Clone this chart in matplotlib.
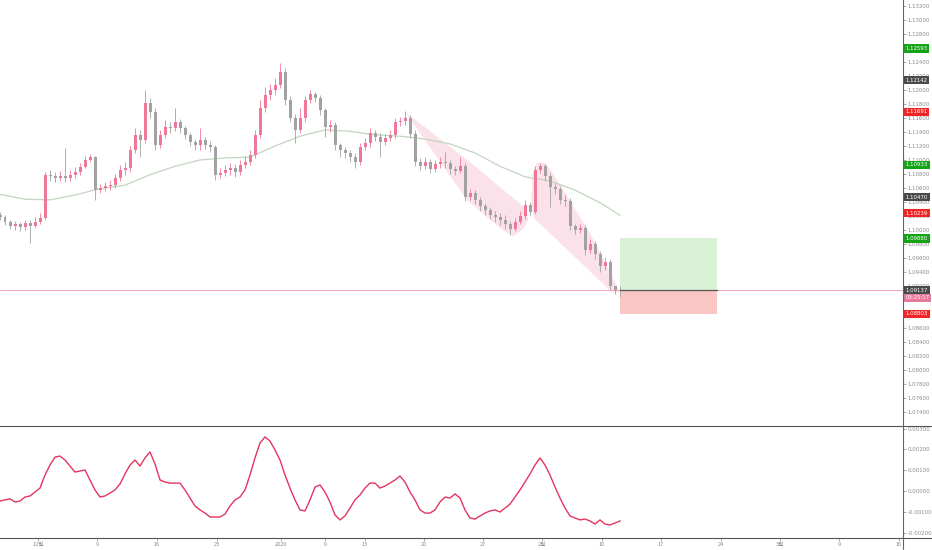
import numpy as np
import matplotlib.pyplot as plt
from matplotlib.lines import Line2D

plt.rcParams["font.family"] = ["DejaVu Sans", "Noto Sans CJK KR"]

# EURUSD-like candles, one bar per slot
first_open = 1.1021
closes = [1.1019, 1.1011, 1.1006, 1.1009, 1.1004, 1.1010, 1.1006, 1.1011, 1.1017, 1.1079,
          1.1077, 1.1074, 1.1077, 1.1074, 1.1079, 1.1083, 1.1090, 1.1100, 1.1104, 1.1057,
          1.1060, 1.1063, 1.1064, 1.1074, 1.1086, 1.1089, 1.1114, 1.1136, 1.1129, 1.1181,
          1.1169, 1.1121, 1.1136, 1.1147, 1.1146, 1.1154, 1.1146, 1.1136, 1.1126, 1.1121,
          1.1129, 1.1121, 1.1119, 1.1079, 1.1081, 1.1086, 1.1089, 1.1083, 1.1093, 1.1097,
          1.1107, 1.1136, 1.1174, 1.1193, 1.1200, 1.1207, 1.1226, 1.1186, 1.1160, 1.1143,
          1.1160, 1.1186, 1.1194, 1.1189, 1.1171, 1.1147, 1.1150, 1.1121, 1.1114, 1.1110,
          1.1104, 1.1097, 1.1119, 1.1124, 1.1139, 1.1133, 1.1126, 1.1131, 1.1136, 1.1154,
          1.1156, 1.1160, 1.1137, 1.1097, 1.1091, 1.1097, 1.1087, 1.1094, 1.1097, 1.1096,
          1.1087, 1.1084, 1.1091, 1.1047, 1.1053, 1.1043, 1.1034, 1.1029, 1.1021, 1.1019,
          1.1014, 1.1009, 1.1001, 1.1011, 1.1020, 1.1036, 1.1026, 1.1086, 1.1091, 1.1077,
          1.1061, 1.1059, 1.1043, 1.1041, 1.1006, 1.1000, 1.1003, 1.0971, 1.0980, 1.0966,
          1.0949, 1.0954, 1.0920, 1.0914, 1.09137]
highs = [1.1026, 1.1021, 1.1014, 1.1013, 1.1011, 1.1014, 1.1014, 1.1019, 1.1024, 1.1083,
         1.1086, 1.1083, 1.1084, 1.1117, 1.1086, 1.1090, 1.1096, 1.1106, 1.1109, 1.1106,
         1.1066, 1.1069, 1.1071, 1.1080, 1.1093, 1.1097, 1.1120, 1.1146, 1.1143, 1.1200,
         1.1189, 1.1174, 1.1143, 1.1157, 1.1154, 1.1174, 1.1159, 1.1149, 1.1139, 1.1130,
         1.1146, 1.1133, 1.1127, 1.1121, 1.1089, 1.1093, 1.1096, 1.1094, 1.1100, 1.1106,
         1.1114, 1.1143, 1.1186, 1.1204, 1.1209, 1.1217, 1.1239, 1.1231, 1.1191, 1.1166,
         1.1174, 1.1191, 1.1200, 1.1197, 1.1193, 1.1174, 1.1157, 1.1154, 1.1124, 1.1119,
         1.1114, 1.1110, 1.1124, 1.1131, 1.1146, 1.1143, 1.1139, 1.1137, 1.1143, 1.1160,
         1.1161, 1.1170, 1.1164, 1.1143, 1.1103, 1.1104, 1.1101, 1.1100, 1.1104, 1.1111,
         1.1100, 1.1091, 1.1104, 1.1096, 1.1059, 1.1057, 1.1047, 1.1039, 1.1033, 1.1027,
         1.1024, 1.1021, 1.1013, 1.1017, 1.1027, 1.1043, 1.1040, 1.1091, 1.1096, 1.1094,
         1.1081, 1.1067, 1.1063, 1.1050, 1.1046, 1.1009, 1.1009, 1.1007, 1.0987, 1.0984,
         1.0970, 1.0961, 1.0959, 1.0920, 1.0920]
lows = [1.1014, 1.1007, 1.1001, 1.1000, 1.0999, 1.1000, 1.0981, 1.1003, 1.1009, 1.1014,
        1.1070, 1.1069, 1.1070, 1.1069, 1.1070, 1.1074, 1.1079, 1.1089, 1.1097, 1.1043,
        1.1053, 1.1056, 1.1057, 1.1060, 1.1070, 1.1079, 1.1083, 1.1110, 1.1104, 1.1124,
        1.1160, 1.1114, 1.1117, 1.1131, 1.1139, 1.1141, 1.1139, 1.1130, 1.1120, 1.1114,
        1.1114, 1.1116, 1.1111, 1.1071, 1.1074, 1.1077, 1.1079, 1.1076, 1.1079, 1.1089,
        1.1093, 1.1103, 1.1131, 1.1169, 1.1186, 1.1193, 1.1203, 1.1179, 1.1154, 1.1124,
        1.1139, 1.1154, 1.1181, 1.1183, 1.1164, 1.1133, 1.1140, 1.1114, 1.1104, 1.1103,
        1.1097, 1.1089, 1.1093, 1.1114, 1.1119, 1.1127, 1.1104, 1.1121, 1.1127, 1.1131,
        1.1149, 1.1150, 1.1131, 1.1091, 1.1086, 1.1087, 1.1081, 1.1083, 1.1089, 1.1089,
        1.1080, 1.1079, 1.1081, 1.1041, 1.1043, 1.1037, 1.1027, 1.1021, 1.1016, 1.1011,
        1.1007, 1.1001, 1.0993, 1.0999, 1.1009, 1.1016, 1.1020, 1.1023, 1.1081, 1.1070,
        1.1033, 1.1051, 1.1037, 1.1034, 1.1000, 1.0994, 1.0996, 1.0964, 1.0967, 1.0959,
        1.0940, 1.0943, 1.0914, 1.0909, 1.0904]

# moving average
ma_bars = [0, 5, 10, 15, 20, 25, 30, 35, 40, 45, 50, 55, 60, 65, 70, 75, 80, 85, 90,
           95, 100, 105, 110, 115, 120, 124]
ma_vals = [1.1051, 1.1044, 1.1043, 1.1050, 1.1059, 1.1064, 1.1079, 1.1091, 1.1100,
           1.1103, 1.1104, 1.1120, 1.1134, 1.1143, 1.1141, 1.1136, 1.1134, 1.1130,
           1.1123, 1.1110, 1.1091, 1.1076, 1.1070, 1.1057, 1.1039, 1.1021]

# oscillator in lower pane
osc = [-0.00048, -0.00043, -0.00038, -0.00053, -0.00048, -0.00029, -0.00024, -0.00005,
       0.00014, 0.00077, 0.00125, 0.00163, 0.00168, 0.00149, 0.00120, 0.00091, 0.00096,
       0.00101, 0.00053, 0.00005, -0.00029, -0.00024, -0.00010, 0.00005, 0.00034, 0.00082,
       0.00125, 0.00149, 0.00120, 0.00159, 0.00188, 0.00130, 0.00053, 0.00043, 0.00038,
       0.00038, 0.00038, 0.00005, -0.00034, -0.00072, -0.00091, -0.00106, -0.00125,
       -0.00125, -0.00125, -0.00111, -0.00072, -0.00043, -0.00029, 0.00005, 0.00077,
       0.00159, 0.00231, 0.00260, 0.00240, 0.00197, 0.00149, 0.00077, 0.00014, -0.00043,
       -0.00091, -0.00096, -0.00043, 0.00019, 0.00029, -0.00005, -0.00053, -0.00115,
       -0.00139, -0.00120, -0.00082, -0.00043, -0.00019, 0.00014, 0.00038, 0.00038,
       0.00014, 0.00024, 0.00038, 0.00053, 0.00072, 0.00043, -0.00005, -0.00043, -0.00091,
       -0.00106, -0.00106, -0.00091, -0.00053, -0.00029, -0.00034, -0.00014, -0.00034,
       -0.00091, -0.00130, -0.00135, -0.00120, -0.00106, -0.00096, -0.00091, -0.00101,
       -0.00082, -0.00063, -0.00029, 0.00005, 0.00043, 0.00082, 0.00125, 0.00159, 0.00125,
       0.00077, 0.00019, -0.00034, -0.00082, -0.00120, -0.00130, -0.00139, -0.00135,
       -0.00144, -0.00159, -0.00139, -0.00159, -0.00163, -0.00154, -0.00144]

tick_bars = [7.6, 19.4, 31.4, 43.4, 56.2, 65, 73, 84.8, 96.6, 108.4, 120.4, 132.2,
             144.2, 156, 167.8, 179.8]
tick_labels = ["12월", "9", "16", "23", "2020", "6", "13", "20", "27", "2월", "10",
               "17", "24", "3월", "9", "16"]

# drawing-tool shapes (bar, price)
shape1 = [(81, 1.1169), (94, 1.1097), (105.4, 1.1029), (105.6, 1.1014), (104.4, 1.1000),
          (102.6, 1.0991), (100, 1.1003), (93.4, 1.1043)]
shape2 = [(106.6, 1.1083), (107.4, 1.1096), (109, 1.1096), (110.4, 1.1083), (118, 1.0996),
          (124, 1.0911), (122.4, 1.0911), (106.8, 1.1017), (106.2, 1.1043)]

# long position tool
last_price = 1.09137
target = 1.09880
stop = 1.08803
box_start, box_end = 124, 143.4

badge_prices = [1.12593, 1.12142, 1.11691, 1.10933, 1.10470, 1.10239, 1.09880, 1.09137,
                1.0903, 1.08803]
badge_texts = ["1.12593", "1.12142", "1.11691", "1.10933", "1.10470", "1.10239",
               "1.09880", "1.09137", "03:25:17", "1.08803"]
badge_colors = ["#16a316", "#4a4a4a", "#f02626", "#16a316", "#4a4a4a", "#f02626",
                "#16a316", "#4a4a4a", "#e8799b", "#f02626"]

up_col = "#ef7898"
dn_col = "#a2a2a2"

fig = plt.figure(figsize=(9.32, 5.5), dpi=100)
ax = fig.add_axes([0, 124 / 550, 903 / 932, 426 / 550])
ax2 = fig.add_axes([0, 12 / 550, 903 / 932, 112 / 550], sharex=ax)

x = np.arange(len(closes))
c = np.array(closes)
o = np.array([first_open] + closes[:-1])
cols = [up_col if cc >= oo else dn_col for oo, cc in zip(o, c)]
body_lo = np.minimum(o, c)
body_h = np.maximum(np.abs(c - o), 0.00003)

ax.fill([p[0] for p in shape1], [p[1] for p in shape1], color="#f7b6c8", alpha=0.4,
        lw=0, zorder=1)
ax.fill([p[0] for p in shape2], [p[1] for p in shape2], color="#f7b6c8", alpha=0.4,
        lw=0, zorder=1)

ax.plot(ma_bars, ma_vals, color="#c2d5c0", lw=0.9, zorder=2)
ax.vlines(x, lows, highs, colors=cols, lw=0.6, zorder=3)
ax.bar(x, body_h, bottom=body_lo, width=0.6, color=cols, lw=0, zorder=4)

ax.axhline(last_price, color="#f4a9b6", lw=0.7, zorder=2)
ax.fill_between([box_start, box_end], last_price, target, color="#d9f1d5", lw=0, zorder=2)
ax.fill_between([box_start, box_end], stop, last_price, color="#f9c6c4", lw=0, zorder=2)
ax.plot([box_start, box_end], [last_price, last_price], color="#555555", lw=0.9, zorder=3)

ax2.plot(x, osc, color="#e4345f", lw=1.0)

ax.set_xlim(0, 180.6)
ax.set_ylim(1.072, 1.132857)
ax2.set_ylim(-0.00226, 0.003125)

ax.yaxis.tick_right()
ax.set_yticks(np.arange(1.074, 1.1321, 0.002))
ax.set_yticklabels(["%.5f" % v for v in np.arange(1.074, 1.1321, 0.002)])
ax2.yaxis.tick_right()
ax2.set_yticks(np.arange(-0.002, 0.0031, 0.001))
ax2.set_yticklabels(["%.5f" % v if abs(v) > 1e-9 else "0.00000"
                     for v in np.arange(-0.002, 0.0031, 0.001)])
for a in (ax, ax2):
    a.tick_params(axis="y", labelsize=3.9, colors="#8a8a8a", length=2, width=0.5, pad=1.2)
    for s in a.spines.values():
        s.set_visible(False)
ax.tick_params(axis="x", bottom=False, labelbottom=False)
ax2.set_xticks(tick_bars)
ax2.set_xticklabels(tick_labels, fontfamily=["Noto Sans CJK KR", "DejaVu Sans"])
ax2.tick_params(axis="x", labelsize=4.0, colors="#8a8a8a", length=2, width=0.5, pad=1)

for p, t, col in zip(badge_prices, badge_texts, badge_colors):
    ax.text(1.003, p, t, transform=ax.get_yaxis_transform(), ha="left", va="center",
            fontsize=3.9, color="white", clip_on=False, zorder=10,
            bbox=dict(boxstyle="square,pad=0.3", fc=col, ec="none"))

# pane separators
fig.add_artist(Line2D([0, 1], [124 / 550, 124 / 550], color="#555555", lw=0.8))
fig.add_artist(Line2D([0, 1], [12 / 550, 12 / 550], color="#555555", lw=0.8))
fig.add_artist(Line2D([903 / 932, 903 / 932], [0, 1], color="#666666", lw=0.8))

fig.savefig("out.png", dpi=100, facecolor="white")
